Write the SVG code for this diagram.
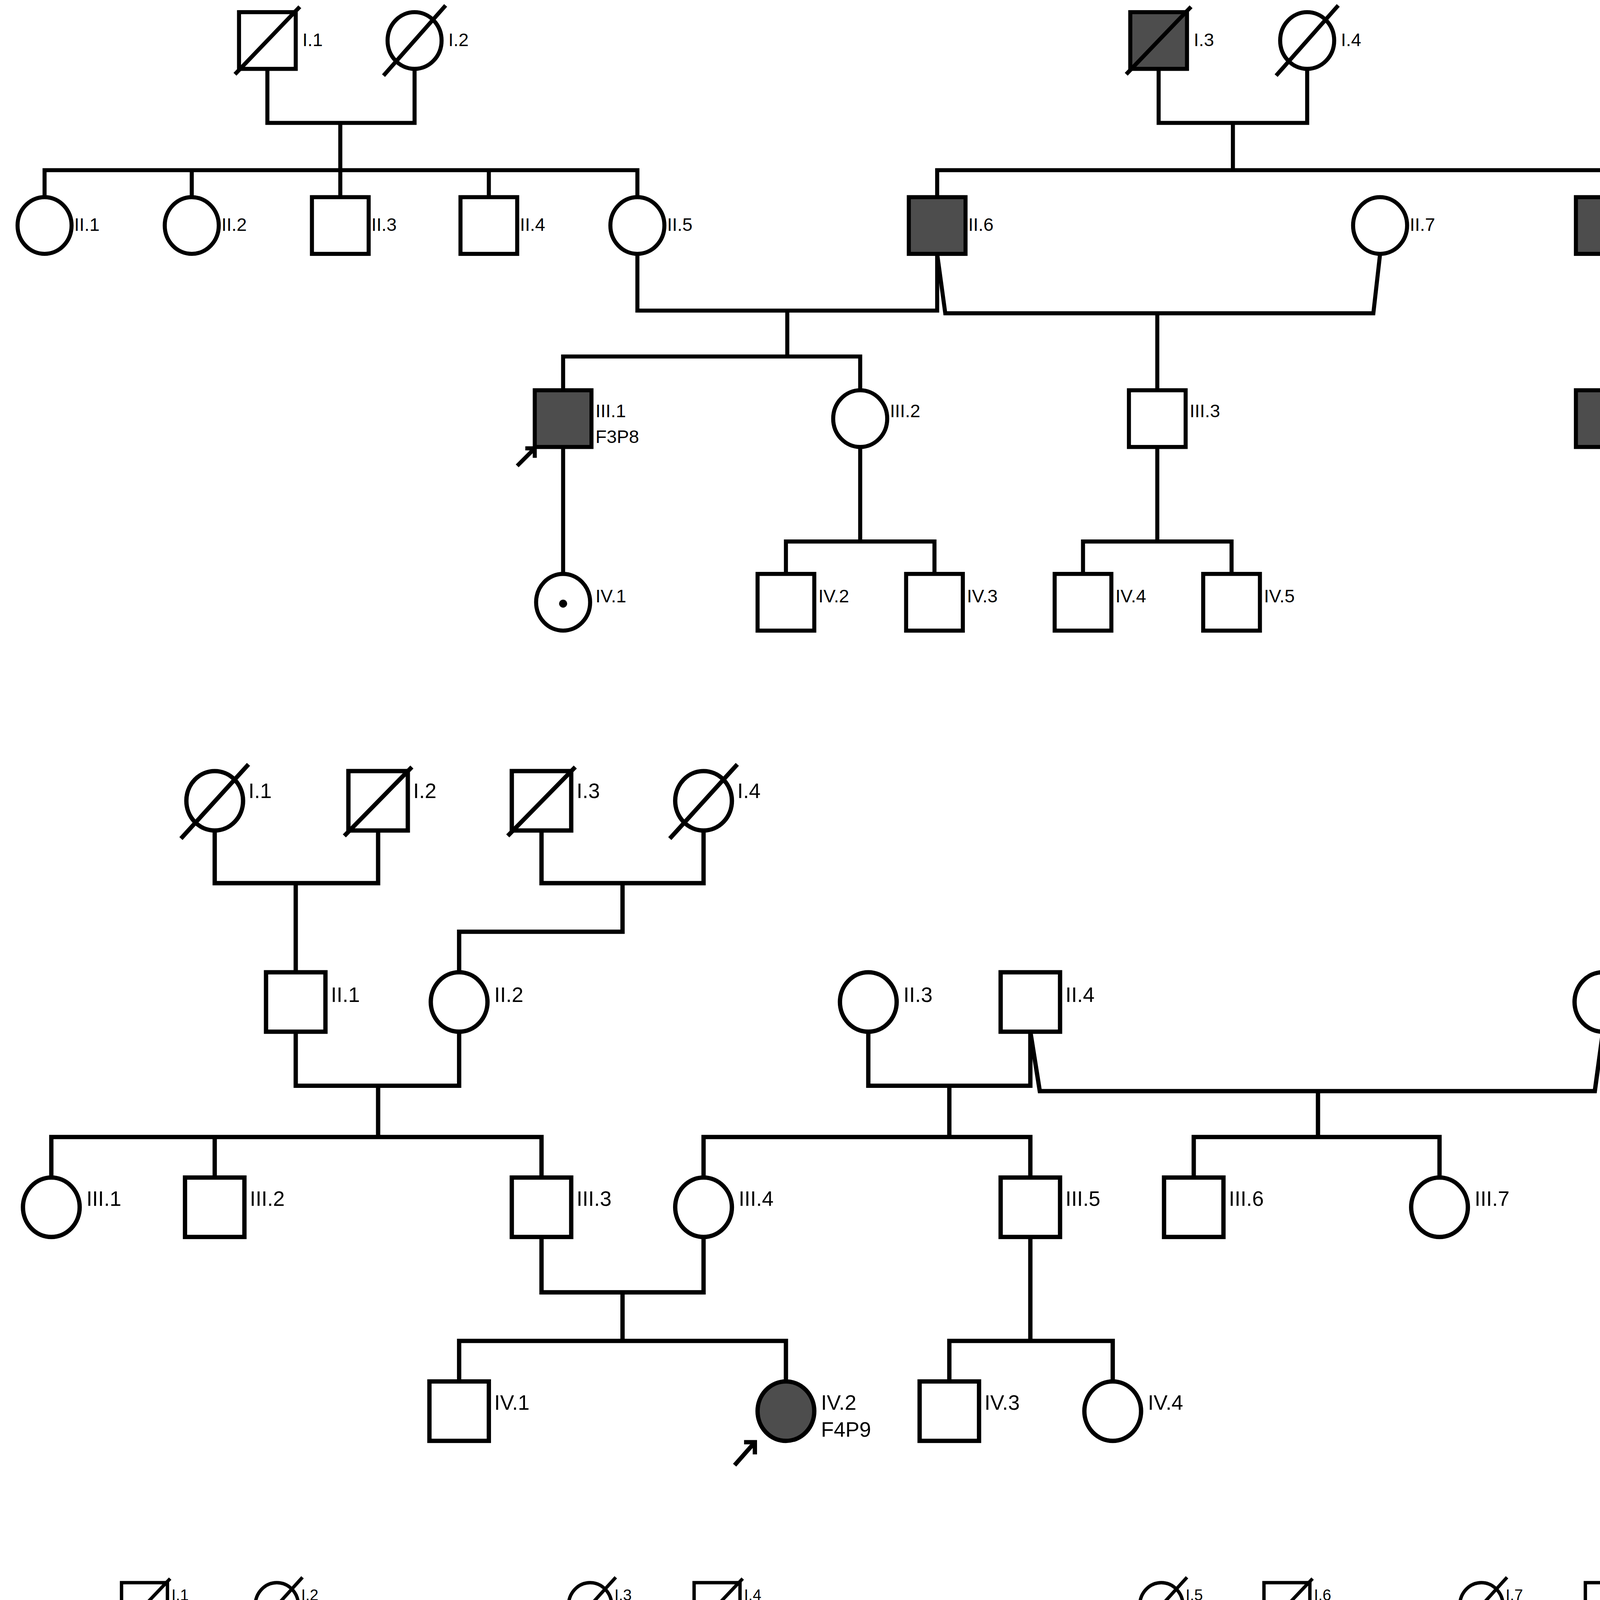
<svg xmlns="http://www.w3.org/2000/svg" width="4304" height="5418" viewBox="0 0 4304 5418">
<style>
.s{fill:#fff;stroke:#000}
.a{fill:#4d4d4d;stroke:#000}
.l{fill:none;stroke:#000}
.t{font-family:"Liberation Sans",Arial,sans-serif;fill:#000}
.f1 .s,.f1 .a,.f1 .l{stroke-width:3}
.f2 .s,.f2 .a,.f2 .l{stroke-width:3.2}
.f3 .s,.f3 .a,.f3 .l{stroke-width:2.5}
.f1 .t{font-size:13.5px}
.f2 .t{font-size:15.5px}
.f3 .t{font-size:11.5px}
</style>
<rect width="4304" height="5418" fill="#fff"/>
<g transform="scale(3.457)">
<!-- FAMILY 1 -->
<g class="f1">
<g id="f1-connectors">
<polyline class="l" points="198,52 198,91 307,91 307,52"/>
<line class="l" x1="252" y1="91" x2="252" y2="126"/>
<polyline class="l" points="33,146 33,126 472,126 472,146"/>
<line class="l" x1="142" y1="126" x2="142" y2="146"/>
<line class="l" x1="252" y1="126" x2="252" y2="146"/>
<line class="l" x1="362" y1="126" x2="362" y2="146"/>
<polyline class="l" points="858,52 858,91 968,91 968,52"/>
<line class="l" x1="913" y1="91" x2="913" y2="126"/>
<polyline class="l" points="694,146 694,126 1188,126 1188,146"/>
<polyline class="l" points="472,188 472,230 694,230 694,188"/>
<polyline class="l" points="694,188 700,232 1017,232 1022,188"/>
<line class="l" x1="583" y1="230" x2="583" y2="264"/>
<polyline class="l" points="417,288 417,264 637,264 637,288"/>
<line class="l" x1="857" y1="232" x2="857" y2="288"/>
<line class="l" x1="1188" y1="188" x2="1188" y2="288"/>
<line class="l" x1="417" y1="330" x2="417" y2="425"/>
<line class="l" x1="637" y1="330" x2="637" y2="401"/>
<polyline class="l" points="582,425 582,401 692,401 692,425"/>
<line class="l" x1="857" y1="330" x2="857" y2="401"/>
<polyline class="l" points="802,425 802,401 912,401 912,425"/>
<line class="l" x1="383" y1="345" x2="396" y2="332"/>
<polyline class="l" points="389,332 396,332 396,339"/>
</g>
<g id="f1-I1"><rect class="s" x="177" y="9" width="42" height="42"/><line class="l" x1="174" y1="55" x2="222" y2="5"/><text class="t" x="224" y="34">I.1</text></g>
<g id="f1-I2"><ellipse class="s" cx="307" cy="30" rx="20" ry="21"/><line class="l" x1="284" y1="56" x2="330" y2="4"/><text class="t" x="332" y="34">I.2</text></g>
<g id="f1-I3"><rect class="a" x="837" y="9" width="42" height="42"/><line class="l" x1="834" y1="55" x2="882" y2="5"/><text class="t" x="884" y="34">I.3</text></g>
<g id="f1-I4"><ellipse class="s" cx="968" cy="30" rx="20" ry="21"/><line class="l" x1="945" y1="56" x2="991" y2="4"/><text class="t" x="993" y="34">I.4</text></g>
<g id="f1-II1"><ellipse class="s" cx="33" cy="167" rx="20" ry="21"/><text class="t" x="55" y="171">II.1</text></g>
<g id="f1-II2"><ellipse class="s" cx="142" cy="167" rx="20" ry="21"/><text class="t" x="164" y="171">II.2</text></g>
<g id="f1-II3"><rect class="s" x="231" y="146" width="42" height="42"/><text class="t" x="275" y="171">II.3</text></g>
<g id="f1-II4"><rect class="s" x="341" y="146" width="42" height="42"/><text class="t" x="385" y="171">II.4</text></g>
<g id="f1-II5"><ellipse class="s" cx="472" cy="167" rx="20" ry="21"/><text class="t" x="494" y="171">II.5</text></g>
<g id="f1-II6"><rect class="a" x="673" y="146" width="42" height="42"/><text class="t" x="717" y="171">II.6</text></g>
<g id="f1-II7"><ellipse class="s" cx="1022" cy="167" rx="20" ry="21"/><text class="t" x="1044" y="171">II.7</text></g>
<g id="f1-II8"><rect class="a" x="1167" y="146" width="42" height="42"/><text class="t" x="1211" y="171">II.8</text></g>
<g id="f1-III1"><rect class="a" x="396" y="289" width="42" height="42"/><text class="t" x="441" y="309">III.1</text><text class="t" x="441" y="328">F3P8</text></g>
<g id="f1-III2"><ellipse class="s" cx="637" cy="310" rx="20" ry="21"/><text class="t" x="659" y="309">III.2</text></g>
<g id="f1-III3"><rect class="s" x="836" y="289" width="42" height="42"/><text class="t" x="881" y="309">III.3</text></g>
<g id="f1-III4"><rect class="a" x="1167" y="289" width="42" height="42"/><text class="t" x="1211" y="309">III.4</text></g>
<g id="f1-IV1"><ellipse class="s" cx="417" cy="446" rx="20" ry="21"/><circle cx="417" cy="447" r="3" fill="#000"/><text class="t" x="441" y="446">IV.1</text></g>
<g id="f1-IV2"><rect class="s" x="561" y="425" width="42" height="42"/><text class="t" x="606" y="446">IV.2</text></g>
<g id="f1-IV3"><rect class="s" x="671" y="425" width="42" height="42"/><text class="t" x="716" y="446">IV.3</text></g>
<g id="f1-IV4"><rect class="s" x="781" y="425" width="42" height="42"/><text class="t" x="826" y="446">IV.4</text></g>
<g id="f1-IV5"><rect class="s" x="891" y="425" width="42" height="42"/><text class="t" x="936" y="446">IV.5</text></g>
</g>
<!-- FAMILY 2 -->
<g class="f2">
<g id="f2-connectors">
<polyline class="l" points="159,615 159,654 280,654 280,615"/>
<line class="l" x1="219" y1="654" x2="219" y2="720"/>
<polyline class="l" points="401,615 401,654 521,654 521,615"/>
<polyline class="l" points="461,654 461,690 340,690 340,720"/>
<polyline class="l" points="219,764 219,804 340,804 340,764"/>
<line class="l" x1="280" y1="804" x2="280" y2="842"/>
<polyline class="l" points="38,872 38,842 401,842 401,872"/>
<line class="l" x1="159" y1="842" x2="159" y2="872"/>
<polyline class="l" points="643,764 643,804 763,804 763,764"/>
<line class="l" x1="703" y1="804" x2="703" y2="842"/>
<polyline class="l" points="521,872 521,842 763,842 763,872"/>
<polyline class="l" points="763,764 770,808 1181,808 1187,764"/>
<line class="l" x1="976" y1="808" x2="976" y2="842"/>
<polyline class="l" points="884,872 884,842 1066,842 1066,872"/>
<polyline class="l" points="401,916 401,957 521,957 521,916"/>
<line class="l" x1="461" y1="957" x2="461" y2="993"/>
<polyline class="l" points="340,1023 340,993 582,993 582,1023"/>
<line class="l" x1="763" y1="916" x2="763" y2="993"/>
<polyline class="l" points="703,1023 703,993 824,993 824,1023"/>
<line class="l" x1="544" y1="1085" x2="559" y2="1068"/>
<polyline class="l" points="551,1068 559,1068 559,1077"/>
</g>
<g id="f2-I1"><ellipse class="s" cx="159" cy="593" rx="21" ry="22"/><line class="l" x1="134" y1="621" x2="184" y2="566"/><text class="t" x="184" y="591">I.1</text></g>
<g id="f2-I2"><rect class="s" x="258" y="571" width="44" height="44"/><line class="l" x1="255" y1="619" x2="305" y2="568"/><text class="t" x="306" y="591">I.2</text></g>
<g id="f2-I3"><rect class="s" x="379" y="571" width="44" height="44"/><line class="l" x1="376" y1="619" x2="426" y2="568"/><text class="t" x="427" y="591">I.3</text></g>
<g id="f2-I4"><ellipse class="s" cx="521" cy="593" rx="21" ry="22"/><line class="l" x1="496" y1="621" x2="546" y2="566"/><text class="t" x="546" y="591">I.4</text></g>
<g id="f2-II1"><rect class="s" x="197" y="720" width="44" height="44"/><text class="t" x="245" y="742">II.1</text></g>
<g id="f2-II2"><ellipse class="s" cx="340" cy="742" rx="21" ry="22"/><text class="t" x="366" y="742">II.2</text></g>
<g id="f2-II3"><ellipse class="s" cx="643" cy="742" rx="21" ry="22"/><text class="t" x="669" y="742">II.3</text></g>
<g id="f2-II4"><rect class="s" x="741" y="720" width="44" height="44"/><text class="t" x="789" y="742">II.4</text></g>
<g id="f2-II5"><ellipse class="s" cx="1187" cy="742" rx="21" ry="22"/><text class="t" x="1213" y="742">II.5</text></g>
<g id="f2-III1"><ellipse class="s" cx="38" cy="894" rx="21" ry="22"/><text class="t" x="64" y="893">III.1</text></g>
<g id="f2-III2"><rect class="s" x="137" y="872" width="44" height="44"/><text class="t" x="185" y="893">III.2</text></g>
<g id="f2-III3"><rect class="s" x="379" y="872" width="44" height="44"/><text class="t" x="427" y="893">III.3</text></g>
<g id="f2-III4"><ellipse class="s" cx="521" cy="894" rx="21" ry="22"/><text class="t" x="547" y="893">III.4</text></g>
<g id="f2-III5"><rect class="s" x="741" y="872" width="44" height="44"/><text class="t" x="789" y="893">III.5</text></g>
<g id="f2-III6"><rect class="s" x="862" y="872" width="44" height="44"/><text class="t" x="910" y="893">III.6</text></g>
<g id="f2-III7"><ellipse class="s" cx="1066" cy="894" rx="21" ry="22"/><text class="t" x="1092" y="893">III.7</text></g>
<g id="f2-IV1"><rect class="s" x="318" y="1023" width="44" height="44"/><text class="t" x="366" y="1044">IV.1</text></g>
<g id="f2-IV2"><ellipse class="a" cx="582" cy="1045" rx="21" ry="22"/><text class="t" x="608" y="1044">IV.2</text><text class="t" x="608" y="1064">F4P9</text></g>
<g id="f2-IV3"><rect class="s" x="681" y="1023" width="44" height="44"/><text class="t" x="729" y="1044">IV.3</text></g>
<g id="f2-IV4"><ellipse class="s" cx="824" cy="1045" rx="21" ry="22"/><text class="t" x="850" y="1044">IV.4</text></g>
</g>
<!-- FAMILY 3 -->
<g class="f3">
<g id="f3-connectors">
<polyline class="l" points="107,1206 107,1236 205,1236 205,1206"/>
<line class="l" x1="153" y1="1236" x2="153" y2="1262"/>
<polyline class="l" points="60,1283 60,1262 248,1262 248,1283"/>
<polyline class="l" points="437,1206 437,1236 531,1236 531,1206"/>
<line class="l" x1="484" y1="1236" x2="484" y2="1262"/>
<polyline class="l" points="342,1283 342,1262 718,1262 718,1283"/>
<line class="l" x1="437" y1="1262" x2="437" y2="1283"/>
<line class="l" x1="531" y1="1262" x2="531" y2="1283"/>
<line class="l" x1="625" y1="1262" x2="625" y2="1283"/>
<polyline class="l" points="860,1206 860,1236 953,1236 953,1206"/>
<line class="l" x1="907" y1="1236" x2="907" y2="1262"/>
<polyline class="l" points="812,1283 812,1262 1022,1262 1022,1283"/>
<polyline class="l" points="1097,1206 1097,1236 1191,1236 1191,1206"/>
<line class="l" x1="1144" y1="1236" x2="1144" y2="1262"/>
<polyline class="l" points="1097,1283 1097,1262 1191,1262 1191,1283"/>
<polyline class="l" points="248,1317 248,1355 342,1355 342,1317"/>
<line class="l" x1="295" y1="1355" x2="295" y2="1382"/>
<polyline class="l" points="107,1403 107,1382 390,1382 390,1403"/>
<line class="l" x1="201" y1="1382" x2="201" y2="1403"/>
<polyline class="l" points="1022,1317 1022,1355 1097,1355 1097,1317"/>
<polyline class="l" points="1049,1355 1049,1382 484,1382 484,1403"/>
<line class="l" x1="955" y1="1382" x2="955" y2="1403"/>
<line class="l" x1="107" y1="1437" x2="107" y2="1518"/>
<polyline class="l" points="390,1437 390,1462 484,1462 484,1437"/>
<line class="l" x1="437" y1="1462" x2="437" y2="1518"/>
<line class="l" x1="955" y1="1437" x2="955" y2="1500"/>
<polyline class="l" points="860,1518 860,1500 1049,1500 1049,1518"/>
<line class="l" x1="312" y1="1335" x2="323" y2="1319"/>
<polyline class="l" points="317,1319 323,1319 323,1326"/>
</g>
<g id="f3-I1"><rect class="s" x="90" y="1172" width="34" height="34"/><line class="l" x1="88" y1="1209" x2="126" y2="1169"/><text class="t" x="127" y="1185">I.1</text></g>
<g id="f3-I2"><ellipse class="s" cx="205" cy="1189" rx="16" ry="17"/><line class="l" x1="186" y1="1210" x2="224" y2="1168"/><text class="t" x="223" y="1185">I.2</text></g>
<g id="f3-I3"><ellipse class="s" cx="437" cy="1189" rx="16" ry="17"/><line class="l" x1="418" y1="1210" x2="456" y2="1168"/><text class="t" x="455" y="1185">I.3</text></g>
<g id="f3-I4"><rect class="s" x="514" y="1172" width="34" height="34"/><line class="l" x1="512" y1="1209" x2="550" y2="1169"/><text class="t" x="551" y="1185">I.4</text></g>
<g id="f3-I5"><ellipse class="s" cx="860" cy="1189" rx="16" ry="17"/><line class="l" x1="841" y1="1210" x2="879" y2="1168"/><text class="t" x="878" y="1185">I.5</text></g>
<g id="f3-I6"><rect class="s" x="936" y="1172" width="34" height="34"/><line class="l" x1="934" y1="1209" x2="972" y2="1169"/><text class="t" x="973" y="1185">I.6</text></g>
<g id="f3-I7"><ellipse class="s" cx="1097" cy="1189" rx="16" ry="17"/><line class="l" x1="1078" y1="1210" x2="1116" y2="1168"/><text class="t" x="1115" y="1185">I.7</text></g>
<g id="f3-I8"><rect class="s" x="1174" y="1172" width="34" height="34"/><line class="l" x1="1172" y1="1209" x2="1210" y2="1169"/><text class="t" x="1211" y="1185">I.8</text></g>
<g id="f3-II1"><ellipse class="s" cx="60" cy="1300" rx="16" ry="17"/><line class="l" x1="41" y1="1321" x2="79" y2="1279"/><text class="t" x="79" y="1303">II.1</text></g>
<g id="f3-II2"><ellipse class="s" cx="248" cy="1300" rx="16" ry="17"/><text class="t" x="267" y="1303">II.2</text></g>
<g id="f3-II3"><rect class="a" x="325" y="1283" width="34" height="34"/><text class="t" x="362" y="1303">II.3</text><text class="t" x="362" y="1318">F5P11</text></g>
<g id="f3-II4"><rect class="s" x="420" y="1283" width="34" height="34"/><line class="l" x1="418" y1="1320" x2="456" y2="1280"/><text class="t" x="456" y="1303">II.4</text></g>
<g id="f3-II5"><rect class="s" x="514" y="1283" width="34" height="34"/><line class="l" x1="512" y1="1320" x2="550" y2="1280"/><text class="t" x="550" y="1303">II.5</text></g>
<g id="f3-II6"><ellipse class="s" cx="625" cy="1300" rx="16" ry="17"/><text class="t" x="644" y="1303">II.6</text></g>
<g id="f3-II7"><rect class="s" x="701" y="1283" width="34" height="34"/><text class="t" x="738" y="1303">II.7</text></g>
<g id="f3-II8"><rect class="s" x="795" y="1283" width="34" height="34"/><line class="l" x1="793" y1="1320" x2="831" y2="1280"/><text class="t" x="832" y="1303">II.8</text></g>
<g id="f3-II9"><rect class="s" x="1005" y="1283" width="34" height="34"/><line class="l" x1="1003" y1="1320" x2="1041" y2="1280"/><text class="t" x="1042" y="1303">II.9</text></g>
<g id="f3-II10"><ellipse class="s" cx="1097" cy="1300" rx="16" ry="17"/><text class="t" x="1116" y="1303">II.10</text></g>
<g id="f3-II11"><ellipse class="s" cx="1191" cy="1300" rx="16" ry="17"/><text class="t" x="1210" y="1303">II.11</text></g>
<g id="f3-III1"><rect class="s" x="90" y="1403" width="34" height="34"/><text class="t" x="127" y="1420">III.1</text></g>
<g id="f3-III2"><rect class="s" x="184" y="1403" width="34" height="34"/><text class="t" x="221" y="1420">III.2</text></g>
<g id="f3-III3"><ellipse class="s" cx="390" cy="1420" rx="16" ry="17"/><text class="t" x="409" y="1420">III.3</text></g>
<g id="f3-III4"><rect class="s" x="467" y="1403" width="34" height="34"/><text class="t" x="504" y="1420">III.4</text></g>
<g id="f3-III5"><rect class="s" x="938" y="1403" width="34" height="34"/><text class="t" x="975" y="1420">III.5</text></g>
<g id="f3-IV1"><rect class="s" x="90" y="1518" width="34" height="34"/><text class="t" x="127" y="1538">IV.1</text></g>
<g id="f3-IV2"><rect class="a" x="420" y="1518" width="34" height="34"/><text class="t" x="457" y="1538">IV.2</text><text class="t" x="457" y="1553">F5P10</text></g>
<g id="f3-IV3"><ellipse class="s" cx="860" cy="1535" rx="16" ry="17"/><text class="t" x="879" y="1538">IV.3</text></g>
<g id="f3-IV4"><ellipse class="s" cx="1049" cy="1535" rx="16" ry="17"/><text class="t" x="1068" y="1538">IV.4</text></g>
</g>
</g>
</svg>
